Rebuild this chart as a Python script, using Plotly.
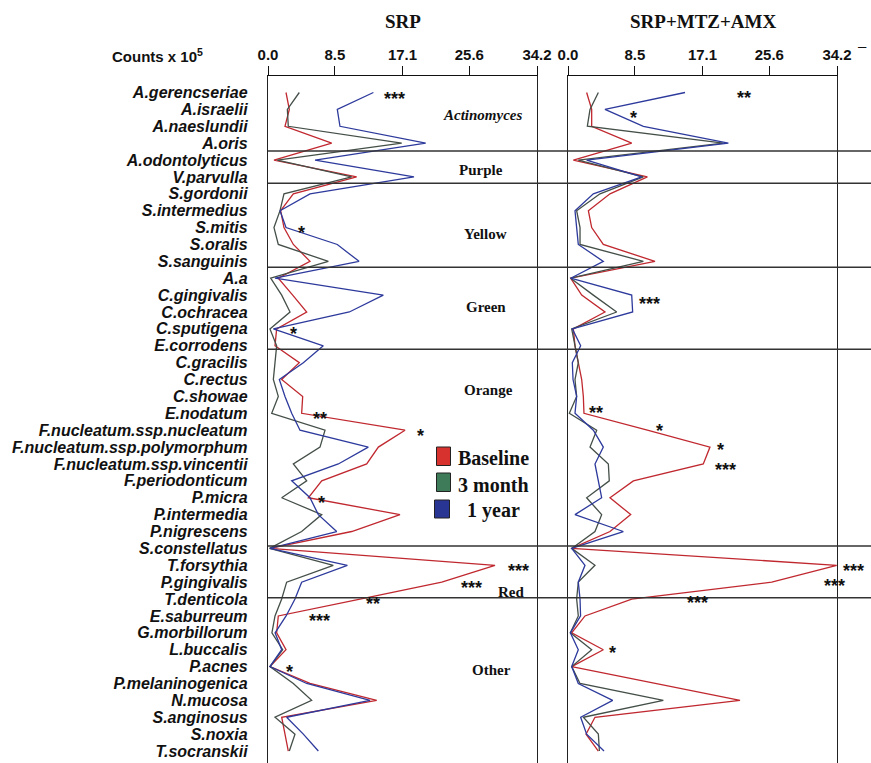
import plotly.graph_objects as go

# ---------------- data ----------------
species = ["A.gerencseriae", "A.israelii", "A.naeslundii", "A.oris", "A.odontolyticus",
           "V.parvulla", "S.gordonii", "S.intermedius", "S.mitis", "S.oralis", "S.sanguinis",
           "A.a", "C.gingivalis", "C.ochracea", "C.sputigena", "E.corrodens", "C.gracilis",
           "C.rectus", "C.showae", "E.nodatum", "F.nucleatum.ssp.nucleatum",
           "F.nucleatum.ssp.polymorphum", "F.nucleatum.ssp.vincentii", "F.periodonticum",
           "P.micra", "P.intermedia", "P.nigrescens", "S.constellatus", "T.forsythia",
           "P.gingivalis", "T.denticola", "E.saburreum", "G.morbillorum", "L.buccalis",
           "P.acnes", "P.melaninogenica", "N.mucosa", "S.anginosus", "S.noxia", "T.socranskii"]

srp_baseline = [2.29, 2.71, 2.16, 8.1, 0.76, 11.27, 3.22, 1.61, 2.03, 3.22, 5.34,
                1.31, 3.14, 4.92, 1.1, 0.89, 3.98, 1.74, 4.41, 4.28, 17.42, 14.03,
                12.55, 6.83, 5.13, 16.78, 10.64, 0.25, 28.86, 22.09, 11.7, 1.31, 1.1,
                2.29, 0.25, 5.34, 13.82, 1.74, 2.16, 2.58]
srp_3month = [3.98, 2.46, 2.58, 17.0, 1.19, 10.64, 2.03, 1.53, 0.76, 1.31, 7.67,
              0.34, 1.74, 2.8, 0.25, 1.1, 0.89, 0.68, 1.31, 0.47, 7.25, 6.61,
              3.22, 4.92, 1.74, 6.83, 4.28, 0.2, 8.3, 2.37, 1.74, 0.89, 0.5,
              1.87, 0.25, 3.22, 5.55, 0.89, 3.43, 2.71]
srp_1year = [13.4, 8.81, 9.15, 20.05, 5.98, 18.56, 5.34, 1.53, 2.29, 8.81, 11.57,
             0.89, 14.66, 10.34, 0.68, 7.03, 4.49, 1.44, 2.16, 3.01, 4.07, 12.75,
             8.94, 3.01, 5.34, 6.4, 8.73, 0.25, 10.09, 4.28, 3.43, 2.3, 0.9,
             1.74, 0.25, 4.92, 12.97, 2.37, 4.49, 6.4]

sma_baseline = [2.37, 3.01, 3.01, 8.1, 0.68, 10.09, 5.34, 2.59, 3.01, 4.49, 11.06,
                0.34, 1.74, 4.7, 0.68, 0.89, 1.31, 1.74, 1.95, 2.03, 10.09, 18.05,
                17.2, 8.31, 5.34, 7.97, 5.34, 0.47, 34.16, 25.9, 8.1, 2.16, 0.47,
                4.49, 0.47, 11.27, 21.87, 3.43, 2.29, 3.86]
sma_3month = [3.86, 2.8, 2.46, 19.75, 1.31, 9.58, 4.07, 1.1, 1.53, 1.53, 9.58,
              0.34, 3.22, 6.19, 0.47, 0.89, 1.31, 0.89, 1.1, 0.17, 3.65, 2.8,
              5.13, 5.25, 2.37, 4.28, 3.43, 0.47, 3.43, 1.31, 1.1, 1.31, 0.3,
              3.01, 0.47, 1.53, 12.12, 1.95, 3.86, 3.99]
sma_1year = [14.88, 4.7, 9.58, 20.39, 2.37, 9.37, 3.22, 0.89, 1.1, 1.31, 4.49,
             0.34, 8.1, 8.22, 0.55, 1.61, 0.55, 0.64, 1.1, 0.89, 3.22, 4.49,
             3.43, 3.86, 4.28, 0.89, 7.03, 0.47, 2.16, 1.31, 1.53, 1.6, 0.3,
             1.31, 0.47, 1.31, 5.68, 1.61, 2.37, 4.58]

x_ticks = [0.0, 8.5, 17.1, 25.6, 34.2]
x_ticktext = ["0.0", "8.5", "17.1", "25.6", "34.2"]

series_names = ["Baseline", "3 month", "1 year"]
line_colors = ["#c0282f", "#444f48", "#2d3a9c"]
box_colors = ["#d8322e", "#3e7b58", "#283593"]

# complex separators (positions between species rows) and complex names
separators = [3.46, 5.38, 10.35, 15.21, 26.86, 29.92]
complex_names = ["<i>Actinomyces</i>", "Purple", "Yellow", "Green", "Orange", "Red", "Other"]
complex_pos = [1.33, 4.59, 8.38, 12.7, 17.62, 29.58, 34.2]
complex_x = [482, 481, 485, 486, 488, 511, 491]

# significance marks: (panel, value, row, text)
stars = [
    (1, 16.1, 0.1, "***"), (1, 4.28, 8.04, "*"), (1, 3.22, 14.03, "*"),
    (1, 6.61, 19.04, "**"), (1, 19.41, 20.05, "*"), (1, 6.83, 24.03, "*"),
    (1, 31.83, 28.02, "***"), (1, 25.9, 29.07, "***"), (1, 13.39, 30.01, "**"),
    (1, 6.53, 31.0, "***"), (1, 2.67, 34.0, "*"),
    (2, 22.38, 0.05, "**"), (2, 8.39, 1.2, "*"), (2, 10.34, 12.25, "***"),
    (2, 3.56, 18.7, "**"), (2, 11.57, 19.75, "*"), (2, 19.45, 20.88, "*"),
    (2, 20.05, 22.06, "***"), (2, 36.36, 28.02, "***"), (2, 33.86, 28.93, "***"),
    (2, 16.44, 29.92, "***"), (2, 5.68, 32.88, "*"),
]

# ---------------- layout geometry ----------------
W, H = 871, 763
ML, MR, MT, MB = 268, 34, 76, 0
PW = W - ML - MR
PH = H - MT - MB
XMAX = 34.2
dom1 = [0, 269 / PW]
dom2 = [300 / PW, 1]
Y_RANGE = [39.71, -0.977]


def px_x(p):
    return (p - ML) / PW


def px_y(p):
    return (H - MB - p) / PH


rows = list(range(len(species)))

fig = go.Figure()
panels = [("x", "y", [srp_baseline, srp_3month, srp_1year]),
          ("x2", "y2", [sma_baseline, sma_3month, sma_1year])]
for xa, ya, vals in panels:
    for name, col, v in zip(series_names, line_colors, vals):
        fig.add_trace(go.Scatter(x=v, y=rows, mode="lines", name=name,
                                 line=dict(color=col, width=1.3),
                                 xaxis=xa, yaxis=ya, showlegend=False,
                                 hoverinfo="skip"))

xfont = dict(family="Liberation Sans, Arial, sans-serif", size=15, color="#111", weight="bold")
common_x = dict(range=[0, XMAX], side="top", tickvals=x_ticks, ticktext=x_ticktext,
                ticks="outside", ticklen=9, tickwidth=1.2, tickcolor="#111",
                showline=True, linecolor="#111", linewidth=1.4, mirror=False,
                showgrid=False, zeroline=False, tickfont=xfont, fixedrange=True)
common_y = dict(range=Y_RANGE, showline=True, mirror=True, linecolor="#222",
                linewidth=1.4, showgrid=False, zeroline=False, domain=[0, 1],
                fixedrange=True)

fig.update_layout(
    width=W, height=H,
    margin=dict(l=ML, r=MR, t=MT, b=MB, pad=0),
    paper_bgcolor="white", plot_bgcolor="white",
    xaxis=dict(domain=dom1, anchor="y", **common_x),
    xaxis2=dict(domain=dom2, anchor="y2", **common_x),
    yaxis=dict(anchor="x", tickvals=rows, ticktext=species, ticks="",
               ticklabelstandoff=16,
               tickfont=dict(family="Liberation Sans, Arial, sans-serif", size=16,
                             color="#111", weight="bold", style="italic"),
               **common_y),
    yaxis2=dict(anchor="x2", showticklabels=False, ticks="", **common_y),
    showlegend=False,
)

shapes = []
for s in separators:
    shapes.append(dict(type="line", xref="paper", yref="y", x0=0, x1=(W - ML) / PW,
                       y0=s, y1=s, line=dict(color="#333", width=1.5)))

# legend boxes
box_px = [(436.5, 447, 450.5, 465.5), (436.5, 473, 450.5, 491.5), (434.5, 500, 449.5, 518)]
for (x0, y0, x1, y1), c in zip(box_px, box_colors):
    shapes.append(dict(type="rect", xref="paper", yref="paper",
                       x0=px_x(x0), x1=px_x(x1), y0=px_y(y1), y1=px_y(y0),
                       fillcolor=c, line=dict(color="#222", width=1)))
fig.update_layout(shapes=shapes)

ann = []
serif = "Liberation Serif, Times New Roman, serif"
C = dict(xanchor="center", yanchor="middle", showarrow=False)
# titles
ann.append(dict(text="SRP", x=px_x(402.5), y=px_y(21), xref="paper", yref="paper",
                font=dict(family=serif, size=19, color="#111", weight="bold"), **C))
ann.append(dict(text="SRP+MTZ+AMX", x=px_x(702.5), y=px_y(21), xref="paper", yref="paper",
                font=dict(family=serif, size=19, color="#111", weight="bold"), **C))
ann.append(dict(text="Counts x 10<sup>5</sup>", x=px_x(110), y=px_y(55), xref="paper",
                yref="paper", xanchor="left", yanchor="middle", showarrow=False,
                font=dict(family="Liberation Sans, Arial, sans-serif", size=15,
                          color="#111", weight="bold")))
ann.append(dict(text="–", x=px_x(862), y=px_y(46), xref="paper", yref="paper",
                font=dict(family="Liberation Sans, Arial, sans-serif",
                          size=15, color="#111"), **C))
# complex names
for t, p, xp in zip(complex_names, complex_pos, complex_x):
    ann.append(dict(text=t, x=px_x(xp), y=p, xref="paper", yref="y",
                    font=dict(family=serif, size=15, color="#111", weight="bold"), **C))
# legend texts
leg_y = [458, 485, 510]
for name, yy in zip(series_names, leg_y):
    ann.append(dict(text=name, x=px_x(493), y=px_y(yy), xref="paper", yref="paper",
                    font=dict(family=serif, size=20, color="#111", weight="bold"), **C))
# significance stars
for panel, v, r, t in stars:
    xr = "x domain" if panel == 1 else "x2 domain"
    yr = "y" if panel == 1 else "y2"
    ann.append(dict(text=t, x=v / XMAX, y=r, xref=xr, yref=yr, yshift=-5,
                    font=dict(family="Liberation Sans, Arial, sans-serif", size=18,
                              color="#111", weight="bold"), **C))
fig.update_layout(annotations=ann)

fig.write_html("out.html", config={"displayModeBar": False},
               post_script="document.body.style.margin='0px';document.body.style.overflow='hidden';")
